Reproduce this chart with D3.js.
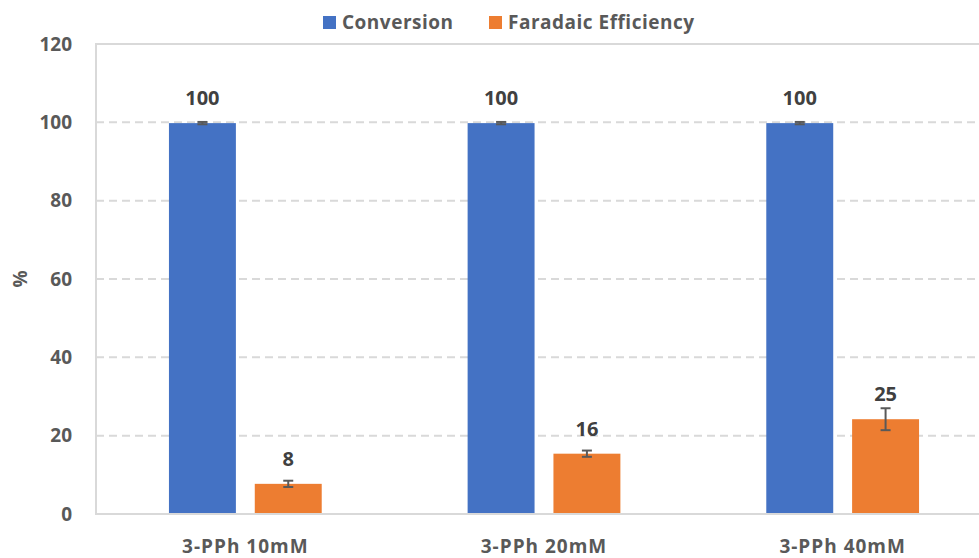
<!DOCTYPE html>
<html>
<head>
<meta charset="utf-8">
<script src="https://cdn.jsdelivr.net/npm/d3@7"></script>
<style>
  body { margin: 0; background: #fff; }
  text { font-family: "Open Sans", Lato, sans-serif; font-weight: bold; }
</style>
</head>
<body>
<svg id="chart" width="979" height="558"></svg>
<script>
const categories = ["3-PPh 10mM", "3-PPh 20mM", "3-PPh 40mM"];
const seriesNames = ["Conversion", "Faradaic Efficiency"];
const conversion = [99.8, 99.8, 99.8];
const conversionErr = [0.3, 0.3, 0.3];
const faradaic = [7.7, 15.4, 24.2];
const faradaicErr = [0.8, 0.8, 2.8];
const conversionLabels = ["100", "100", "100"];
const faradaicLabels = ["8", "16", "25"];
const yTicks = [0, 20, 40, 60, 80, 100, 120];
const colors = ["#4472C4", "#ED7D31"];

const svg = d3.select("#chart");
const margin = {left: 96, top: 44, right: -13, bottom: 44};
const W = 979, H = 558;
const x0 = d3.scaleBand().domain(categories).range([margin.left, W - margin.right]).paddingInner(0).paddingOuter(0);
const x1 = d3.scaleBand().domain(seriesNames).range([0, x0.bandwidth()]).paddingInner(0.22).paddingOuter(0.85);
const y = d3.scaleLinear().domain([0, 120]).range([H - margin.bottom, margin.top]);

// gridlines
svg.append("g").selectAll("line").data(yTicks.filter(t => t > 0 && t < 120)).join("line")
  .attr("x1", margin.left).attr("x2", W)
  .attr("y1", d => y(d)).attr("y2", d => y(d))
  .attr("stroke", "#d9d9d9").attr("stroke-width", 2).attr("stroke-dasharray", "8,5");

// plot border (top and left)
svg.append("line").attr("x1", margin.left).attr("x2", W).attr("y1", y(120)).attr("y2", y(120))
  .attr("stroke", "#d9d9d9").attr("stroke-width", 2);
svg.append("line").attr("x1", margin.left).attr("x2", margin.left).attr("y1", y(120) - 1).attr("y2", y(0) + 1)
  .attr("stroke", "#d9d9d9").attr("stroke-width", 2);

// y tick labels via axis
const yAxis = d3.axisLeft(y).tickValues(yTicks).tickSize(0).tickPadding(24);
const ya = svg.append("g").attr("transform", `translate(${margin.left},0)`).call(yAxis);
ya.select(".domain").remove();
ya.selectAll("text").attr("font-size", 19).attr("fill", "#595959")
  .attr("font-family", "'Open Sans', sans-serif").attr("font-weight", "bold");

// y title
svg.append("text").attr("transform", `translate(27,${y(60)}) rotate(-90)`)
  .attr("text-anchor", "middle").attr("font-size", 19).attr("fill", "#595959").text("%");

// bars
const data = categories.map((c, i) => ({
  cat: c,
  vals: [
    {s: seriesNames[0], v: conversion[i], e: conversionErr[i], l: conversionLabels[i], c: colors[0]},
    {s: seriesNames[1], v: faradaic[i], e: faradaicErr[i], l: faradaicLabels[i], c: colors[1]}
  ]
}));
const g = svg.append("g").selectAll("g").data(data).join("g")
  .attr("transform", d => `translate(${x0(d.cat)},0)`);
g.selectAll("rect").data(d => d.vals).join("rect")
  .attr("x", d => x1(d.s)).attr("width", x1.bandwidth())
  .attr("y", d => y(d.v)).attr("height", d => y(0) - y(d.v))
  .attr("fill", d => d.c);

// x axis line
svg.append("line").attr("x1", margin.left).attr("x2", W).attr("y1", y(0)).attr("y2", y(0))
  .attr("stroke", "#d9d9d9").attr("stroke-width", 2);

// error bars
const eb = g.selectAll("g.err").data(d => d.vals).join("g").attr("class", "err");
const cx = d => x1(d.s) + x1.bandwidth() / 2;
eb.append("line").attr("x1", cx).attr("x2", cx)
  .attr("y1", d => y(d.v + d.e)).attr("y2", d => y(d.v - d.e))
  .attr("stroke", "#595959").attr("stroke-width", 2);
eb.append("line").attr("x1", d => cx(d) - 5).attr("x2", d => cx(d) + 5)
  .attr("y1", d => y(d.v + d.e)).attr("y2", d => y(d.v + d.e))
  .attr("stroke", "#595959").attr("stroke-width", 2);
eb.append("line").attr("x1", d => cx(d) - 5).attr("x2", d => cx(d) + 5)
  .attr("y1", d => y(d.v - d.e)).attr("y2", d => y(d.v - d.e))
  .attr("stroke", "#595959").attr("stroke-width", 2);

// data labels
g.selectAll("text.lbl").data(d => d.vals).join("text").attr("class", "lbl")
  .attr("x", cx).attr("y", d => y(d.v) - 18)
  .attr("text-anchor", "middle").attr("font-size", 20).attr("fill", "#404040").text(d => d.l);

// x category labels via axis
const xAxis = d3.axisBottom(x0).tickSize(0).tickPadding(26);
const xa = svg.append("g").attr("transform", `translate(0,${y(0)})`).call(xAxis);
xa.select(".domain").remove();
xa.selectAll("text").attr("font-size", 19).attr("fill", "#595959")
  .attr("font-family", "'Open Sans', sans-serif").attr("font-weight", "bold")
  .attr("letter-spacing", "1px");

// legend
const legend = svg.append("g");
const legItems = [{n: seriesNames[0], c: colors[0], x: 323}, {n: seriesNames[1], c: colors[1], x: 489}];
legItems.forEach(it => {
  legend.append("rect").attr("x", it.x).attr("y", 16).attr("width", 13).attr("height", 13).attr("fill", it.c);
  legend.append("text").attr("x", it.x + 19).attr("y", 29).attr("font-size", 19).attr("fill", "#595959")
    .attr("letter-spacing", "0.5px").text(it.n);
});
</script>
</body>
</html>
